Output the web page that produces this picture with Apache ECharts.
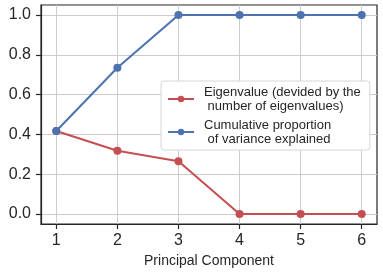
<!DOCTYPE html>
<html>
<head>
<meta charset="utf-8">
<script src="https://cdn.jsdelivr.net/npm/echarts@6/dist/echarts.min.js"></script>
<style>html,body{margin:0;padding:0;background:#fff}#c{width:383px;height:274px}</style>
</head>
<body>
<div id="c"></div>
<script>
const components = [1, 2, 3, 4, 5, 6];
const eigenvalueShare = [0.417, 0.318, 0.265, 0.0, 0.0, 0.0];
const cumulativeShare = [0.417, 0.735, 1.0, 1.0, 1.0, 1.0];
const xTicks = [1, 2, 3, 4, 5, 6];
const yTicks = [0.0, 0.2, 0.4, 0.6, 0.8, 1.0];
const seriesNames = ['Eigenvalue (devided by the\n number of eigenvalues)', 'Cumulative proportion\n of variance explained'];

const font = "'Liberation Sans', Arial, sans-serif";
const chart = echarts.init(document.getElementById('c'), null, {renderer: 'canvas'});
const mk = (name, vals, color) => ({
  name: name,
  type: 'line',
  data: components.map((c, i) => [c, vals[i]]),
  symbol: 'circle',
  symbolSize: 8,
  lineStyle: {width: 2, color: color},
  itemStyle: {color: color},
  emphasis: {disabled: true},
  animation: false
});
chart.setOption({
  animation: false,
  grid: {left: 41, right: 6, top: 5, bottom: 50, show: true, borderColor: '#262626', borderWidth: 1.2, backgroundColor: '#fff'},
  legend: {
    orient: 'vertical', left: 161, top: 81,
    padding: [4, 9, 4, 6],
    itemGap: 5, itemWidth: 26, itemHeight: 8,
    backgroundColor: '#fff', borderColor: '#d6d6d6', borderWidth: 1, borderRadius: 3,
    textStyle: {fontFamily: font, fontSize: 13, color: '#262626', lineHeight: 14, padding: [0, 0, 0, 5]},
    data: seriesNames
  },
  xAxis: {
    type: 'value', min: 0.75, max: 6.25,
    name: 'Principal Component', nameLocation: 'middle', nameGap: 25,
    nameTextStyle: {fontFamily: font, fontSize: 14, color: '#262626'},
    axisLine: {show: true, onZero: false, lineStyle: {color: '#262626', width: 1.2}},
    axisTick: {show: true, length: 5, inside: false, customValues: xTicks, lineStyle: {color: '#262626', width: 1.2}},
    axisLabel: {customValues: xTicks, fontFamily: font, fontSize: 16, color: '#262626', margin: 9},
    splitLine: {show: true, lineStyle: {color: '#cccccc', width: 1}}
  },
  yAxis: {
    type: 'value', min: -0.05, max: 1.05,
    axisLine: {show: true, onZero: false, lineStyle: {color: '#262626', width: 1.2}},
    axisTick: {show: true, length: 5, inside: false, customValues: yTicks, lineStyle: {color: '#262626', width: 1.2}},
    axisLabel: {customValues: yTicks, fontFamily: font, fontSize: 16, color: '#262626', margin: 10, formatter: v => v.toFixed(1)},
    splitLine: {show: true, lineStyle: {color: '#cccccc', width: 1}}
  },
  series: [
    mk(seriesNames[0], eigenvalueShare, '#C44E52'),
    mk(seriesNames[1], cumulativeShare, '#4C72B0')
  ]
});
</script>
</body>
</html>
